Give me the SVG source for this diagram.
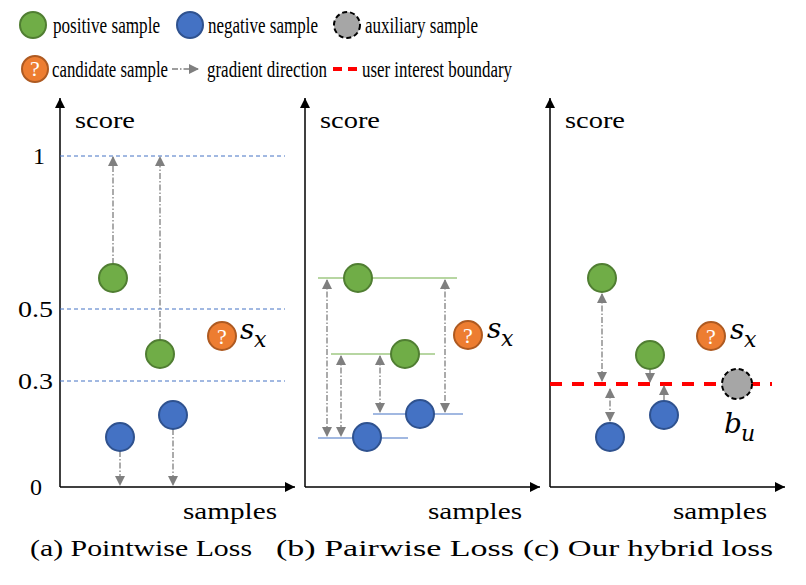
<svg xmlns="http://www.w3.org/2000/svg" width="806" height="585" viewBox="0 0 806 585">
<style>
text{font-family:'Liberation Serif','Times New Roman','DejaVu Serif',serif;font-size:24px;fill:#000}
.pos{fill:#70ad47;stroke:#507e32;stroke-width:2}
.neg{fill:#4472c4;stroke:#2f528f;stroke-width:2}
.aux{fill:#a6a6a6;stroke:#000;stroke-width:2;stroke-dasharray:5,3}
.cand{fill:#ed7d31;stroke:#ae5a21;stroke-width:2}
.q{font-size:22px;fill:#fff;text-anchor:middle}
.ax{stroke:#000;stroke-width:1.5;fill:none}
.grid{stroke:#4472c4;stroke-width:1;stroke-dasharray:4,3}
.grad{stroke:#7f7f7f;stroke-width:1.3;stroke-dasharray:6,2,1.5,2;fill:none}
.math{font-family:'DejaVu Serif',serif;font-style:italic;font-size:28px}
.sub{font-family:'DejaVu Serif',serif;font-style:italic;font-size:22px}
</style>
<defs>
<marker id="ah" viewBox="0 0 10 10" refX="10" refY="5" markerWidth="10" markerHeight="10" markerUnits="userSpaceOnUse" orient="auto-start-reverse"><path d="M0,0L10,5L0,10z" fill="#000"/></marker>
<marker id="ga" viewBox="0 0 10 10" refX="9" refY="5" markerWidth="10" markerHeight="10" markerUnits="userSpaceOnUse" orient="auto-start-reverse"><path d="M0,0L10,5L0,10z" fill="#7f7f7f"/></marker>
</defs>
<g id="legend">
<circle class="pos" cx="33" cy="25" r="13"/><text x="53" y="33" textLength="107" lengthAdjust="spacingAndGlyphs">positive sample</text>
<circle class="neg" cx="190" cy="25" r="13"/><text x="208" y="33" textLength="110" lengthAdjust="spacingAndGlyphs">negative sample</text>
<circle class="aux" cx="347" cy="25" r="13"/><text x="365" y="33" textLength="113" lengthAdjust="spacingAndGlyphs">auxiliary sample</text>
<circle class="cand" cx="35" cy="69" r="13"/><text class="q" x="35" y="76">?</text><text x="52" y="77" textLength="116" lengthAdjust="spacingAndGlyphs">candidate sample</text>
<line class="grad" x1="172" y1="69" x2="198" y2="69" marker-end="url(#ga)"/><text x="207" y="77" textLength="120" lengthAdjust="spacingAndGlyphs">gradient direction</text>
<line x1="333" y1="69" x2="357" y2="69" stroke="#f00" stroke-width="4" stroke-dasharray="9,6"/><text x="362" y="77" textLength="150" lengthAdjust="spacingAndGlyphs">user interest boundary</text>
</g>
<g id="panel-a">
<line class="ax" x1="60" y1="487" x2="60" y2="98" marker-end="url(#ah)"/>
<line class="ax" x1="60" y1="487" x2="295" y2="487" marker-end="url(#ah)"/>
<text x="75" y="128" textLength="60" lengthAdjust="spacingAndGlyphs">score</text><text x="183" y="519" textLength="94" lengthAdjust="spacingAndGlyphs">samples</text>
<text x="33" y="164">1</text><text x="18" y="317" textLength="35" lengthAdjust="spacingAndGlyphs">0.5</text><text x="18" y="389" textLength="35" lengthAdjust="spacingAndGlyphs">0.3</text><text x="30" y="495">0</text>
<line class="grid" x1="60" y1="156" x2="285" y2="156"/><line class="grid" x1="60" y1="309" x2="285" y2="309"/><line class="grid" x1="60" y1="381" x2="285" y2="381"/>
<g id="a-edges">
<line class="grad" x1="113" y1="264" x2="113" y2="157" marker-end="url(#ga)"/>
<line class="grad" x1="160" y1="340" x2="160" y2="157" marker-end="url(#ga)"/>
<line class="grad" x1="120" y1="451" x2="120" y2="485" marker-end="url(#ga)"/>
<line class="grad" x1="173" y1="429" x2="173" y2="485" marker-end="url(#ga)"/>
</g>
<circle class="pos" cx="113" cy="278" r="14"/><circle class="pos" cx="160" cy="354" r="14"/>
<circle class="neg" cx="120" cy="437" r="14"/><circle class="neg" cx="173" cy="415" r="14"/>
<circle class="cand" cx="222" cy="336" r="14"/><text class="q" x="222" y="344">?</text>
<text class="math" x="240" y="339">s</text><text class="sub" x="254" y="347">x</text>
<text x="30" y="556" textLength="222" lengthAdjust="spacingAndGlyphs">(a) Pointwise Loss</text>
</g>
<g id="panel-b">
<line class="ax" x1="305" y1="487" x2="305" y2="98" marker-end="url(#ah)"/>
<line class="ax" x1="305" y1="487" x2="540" y2="487" marker-end="url(#ah)"/>
<text x="320" y="128" textLength="60" lengthAdjust="spacingAndGlyphs">score</text><text x="428" y="519" textLength="94" lengthAdjust="spacingAndGlyphs">samples</text>
<g stroke-width="1.2"><line x1="318" y1="278" x2="457" y2="278" stroke="#70ad47"/><line x1="331" y1="354" x2="435" y2="354" stroke="#70ad47"/><line x1="318" y1="438" x2="408" y2="438" stroke="#4472c4"/><line x1="373" y1="414" x2="463" y2="414" stroke="#4472c4"/></g>
<g id="b-edges">
<line class="grad" x1="327" y1="280" x2="327" y2="436" marker-start="url(#ga)" marker-end="url(#ga)"/>
<line class="grad" x1="341" y1="356" x2="341" y2="436" marker-start="url(#ga)" marker-end="url(#ga)"/>
<line class="grad" x1="380" y1="356" x2="380" y2="412" marker-start="url(#ga)" marker-end="url(#ga)"/>
<line class="grad" x1="445" y1="280" x2="445" y2="412" marker-start="url(#ga)" marker-end="url(#ga)"/>
</g>
<circle class="pos" cx="358" cy="278" r="14"/><circle class="pos" cx="405" cy="354" r="14"/>
<circle class="neg" cx="367" cy="437" r="14"/><circle class="neg" cx="420" cy="414" r="14"/>
<circle class="cand" cx="468" cy="335" r="14"/><text class="q" x="468" y="343">?</text>
<text class="math" x="487" y="338">s</text><text class="sub" x="501" y="346">x</text>
<text x="276" y="556" textLength="238" lengthAdjust="spacingAndGlyphs">(b) Pairwise Loss</text>
</g>
<g id="panel-c">
<line class="ax" x1="550" y1="487" x2="550" y2="98" marker-end="url(#ah)"/>
<line class="ax" x1="550" y1="487" x2="785" y2="487" marker-end="url(#ah)"/>
<text x="565" y="128" textLength="60" lengthAdjust="spacingAndGlyphs">score</text><text x="673" y="519" textLength="94" lengthAdjust="spacingAndGlyphs">samples</text>
<line x1="550" y1="384" x2="772" y2="384" stroke="#f00" stroke-width="4" stroke-dasharray="12,10"/>
<g id="c-edges">
<line class="grad" x1="602" y1="294" x2="602" y2="381" marker-start="url(#ga)" marker-end="url(#ga)"/>
<line class="grad" x1="610" y1="389" x2="610" y2="421" marker-start="url(#ga)" marker-end="url(#ga)"/>
<line class="grad" x1="650" y1="370" x2="650" y2="382" marker-end="url(#ga)"/>
<line class="grad" x1="664" y1="400" x2="664" y2="386" marker-end="url(#ga)"/>
</g>
<circle class="pos" cx="602" cy="278" r="14"/><circle class="pos" cx="650" cy="355" r="14"/>
<circle class="neg" cx="610" cy="437" r="14"/><circle class="neg" cx="664" cy="415" r="14"/>
<circle class="aux" cx="737" cy="384" r="15"/>
<circle class="cand" cx="711" cy="336" r="14"/><text class="q" x="711" y="344">?</text>
<text class="math" x="730" y="339">s</text><text class="sub" x="744" y="347">x</text>
<text class="math" x="724" y="433">b</text><text class="sub" x="741" y="441">u</text>
<text x="523" y="556" textLength="250" lengthAdjust="spacingAndGlyphs">(c) Our hybrid loss</text>
</g>
</svg>
